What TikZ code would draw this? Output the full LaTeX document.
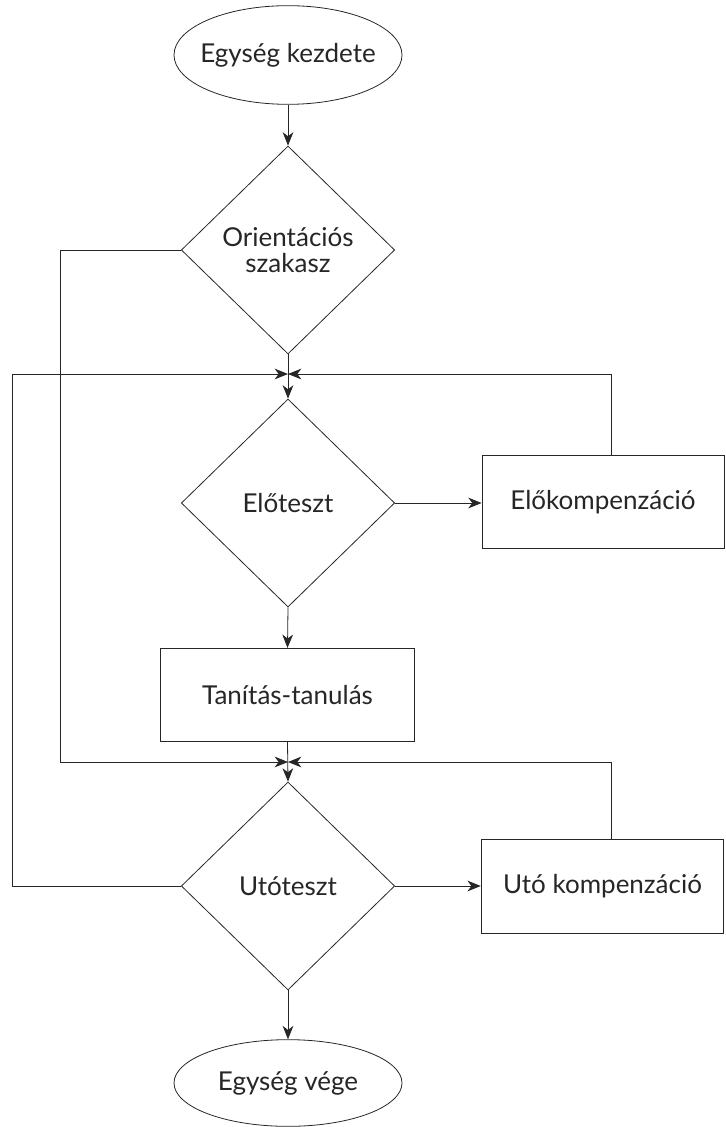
\documentclass[tikz,border=0pt]{standalone}
\usepackage{fontspec}
\setmainfont{Lato}
\usetikzlibrary{shapes.geometric,arrows.meta}

\tikzset{
  every node/.style={font=\fontsize{19.5}{19}\selectfont, text=black!85, align=center},
  terminal/.style={draw, ellipse, inner xsep=-6pt, inner ysep=0pt, minimum width=171pt},
  test/.style={draw, diamond, inner sep=0pt, minimum width=160pt, minimum height=156pt},
  box/.style={draw, rectangle, minimum height=70pt},
  arr/.style={-{Stealth[length=10pt,width=8pt,inset=3pt]}}
}

\begin{document}
\begin{tikzpicture}[x=0.75pt, y=-0.75pt, line width=0.6pt, draw=black!85]
\useasboundingbox (0,0) rectangle (725,1127);

%% nodes
\node[terminal, minimum height=74pt] (start) at (288,55) {Egység kezdete};
\node[test] (orient) at (288,250) {Orientációs\\szakasz};
\node[test] (elo) at (288,503) {Előteszt};
\node[box, minimum width=181.5pt] (elokomp) at (603,502) {Előkompenzáció};
\node[box, minimum width=190pt] (tanit) at (287.5,695) {Tanítás-tanulás};
\node[test] (uto) at (288,886) {Utóteszt};
\node[box, minimum width=182pt] (utokomp) at (602.5,886.5) {Utó kompenzáció};
\node[terminal, minimum height=65pt] (end) at (288,1083) {Egység vége};

%% merge points and loop corners
\coordinate (m1) at (288,374);
\coordinate (m2) at (288,762);
\coordinate (loopa) at (12,374);
\coordinate (loopb) at (60,762);
\coordinate (loopc) at (611,374);
\coordinate (loopd) at (611,762);

%% main line
\draw[arr] (start) -- (orient);
\draw[arr] (orient.south) -- (elo.north);
\draw[arr] (elo.south) -- (tanit.north);
\draw[arr] (tanit.south) -- (uto.north);
\draw[arr] (uto.south) -- (end.north);

%% side branches
\draw[arr] (elo.east) -- (elokomp.west |- elo.east);
\draw[arr] (uto.east) -- (utokomp.west |- uto.east);

%% loops back
\draw[arr] (loopc |- elokomp.north) -- (loopc) -- (m1);
\draw[arr] (loopd |- utokomp.north) -- (loopd) -- (m2);
\draw[arr] (uto.west) -| (loopa) -- (m1);
\draw[arr] (orient.west) -| (loopb) -- (m2);
\end{tikzpicture}
\end{document}
